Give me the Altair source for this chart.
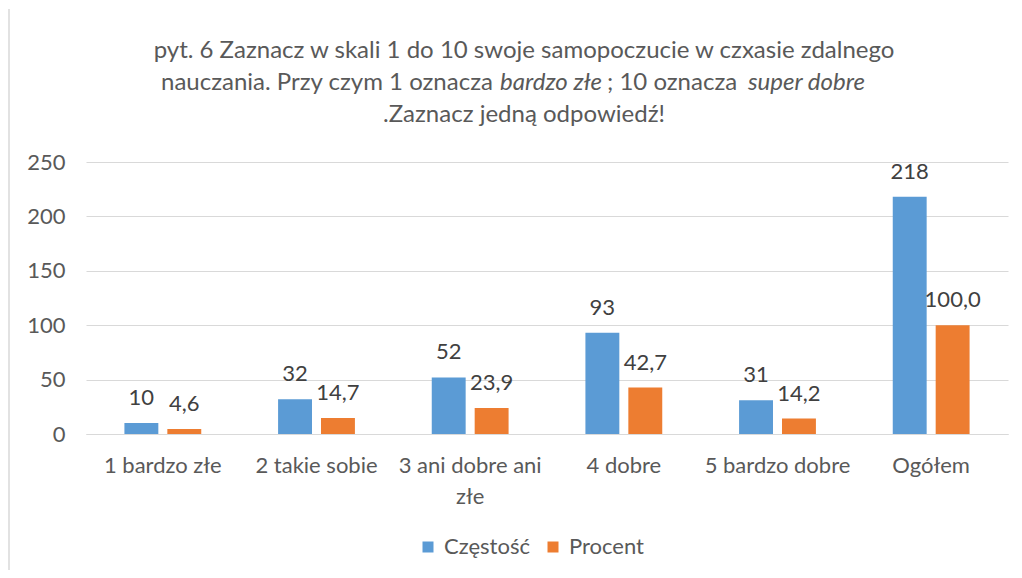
import altair as alt
import pandas as pd

categories = ["1 bardzo złe", "2 takie sobie", "3 ani dobre ani złe", "4 dobre", "5 bardzo dobre", "Ogółem"]
czestosc = [10, 32, 52, 93, 31, 218]
procent = [4.6, 14.7, 23.9, 42.7, 14.2, 100.0]
series = ["Częstość", "Procent"]
colors = ["#5B9BD5", "#ED7D31"]
y_ticks = [0, 50, 100, 150, 200, 250]

title_line1 = "pyt. 6 Zaznacz w skali 1 do 10 swoje samopoczucie w czxasie zdalnego"
title_line2_parts = ["nauczania. Przy czym 1 oznacza", "bardzo złe", "; 10 oznacza", "super dobre"]
title_line2_italic = [False, True, False, True]
title_line3 = ".Zaznacz jedną odpowiedź!"

rows = []
for c, v in zip(categories, czestosc):
    rows.append({"cat": c, "series": series[0], "value": v, "label": f"{v}"})
for c, v in zip(categories, procent):
    rows.append({"cat": c, "series": series[1], "value": v, "label": f"{v:.1f}".replace(".", ",")})
df = pd.DataFrame(rows)

FONT = "Lato"
GREY = "#595959"
FS = 22
TFS = 24

x_enc = alt.X(
    "cat:N", sort=categories, title=None,
    scale=alt.Scale(paddingInner=0.5, paddingOuter=0.25),
    axis=alt.Axis(
        labelAngle=0, ticks=False, domainColor="#d9d9d9", labelFontSize=FS,
        labelColor=GREY, labelFont=FONT, labelPadding=21, labelLineHeight=31,
        labelExpr="datum.label == '3 ani dobre ani złe' ? ['3 ani dobre ani', 'złe'] : datum.label",
        labelLimit=300,
    ),
)
xo_enc = alt.XOffset("series:N", sort=series, scale=alt.Scale(paddingInner=0.21, paddingOuter=0))
y_enc = alt.Y(
    "value:Q", title=None,
    scale=alt.Scale(domain=[0, 250], nice=False),
    axis=alt.Axis(values=y_ticks, domain=False, ticks=False, gridColor="#d9d9d9",
                  labelFontSize=FS, labelColor=GREY, labelFont=FONT, labelPadding=21),
)

base = alt.Chart(df)
bars = base.mark_bar().encode(
    x=x_enc, xOffset=xo_enc, y=y_enc,
    color=alt.Color(
        "series:N", sort=series,
        scale=alt.Scale(domain=series, range=colors),
        legend=alt.Legend(
            title=None, orient="none", direction="horizontal", legendX=331, legendY=374,
            symbolType="square", symbolSize=121, symbolStrokeWidth=0, labelFontSize=FS,
            labelColor=GREY, labelFont=FONT, labelOffset=5, columnPadding=12,
        ),
    ),
)
labels = base.mark_text(baseline="alphabetic", dy=-18, fontSize=FS, font=FONT, color="#404040").encode(
    x=alt.X("cat:N", sort=categories), xOffset=alt.XOffset("series:N", sort=series), y="value:Q", text="label:N"
)
border = alt.Chart(pd.DataFrame({"k": [0]})).mark_rule(color="#d9d9d9", strokeWidth=1.5).encode(
    x=alt.value(-77), y=alt.value(-153), y2=alt.value(408)
)

# title, as text pieces so that line 2 can carry its italic parts
one = pd.DataFrame({"k": [0]})


def title_text(txt, px, py, align="left", italic=False):
    return alt.Chart(one).mark_text(
        text=txt, font=FONT, fontSize=TFS, color=GREY, align=align, baseline="alphabetic",
        fontStyle="italic" if italic else "normal",
    ).encode(x=alt.value(px), y=alt.value(py))


title_layers = [title_text(title_line1, 438, -104, align="center"),
                title_text(title_line3, 438, -40, align="center")]
part_x = [75, 414, 521, 662]
for txt, ital, px in zip(title_line2_parts, title_line2_italic, part_x):
    title_layers.append(title_text(txt, px, -72, italic=ital))

chart = alt.layer(bars, labels, border, *title_layers).properties(
    width=922, height=272,
    padding={"left": 0, "top": 0, "right": 5, "bottom": 0},
).configure_view(stroke=None)

chart.save("out.html", embed_options={"renderer": "svg", "actions": False})
